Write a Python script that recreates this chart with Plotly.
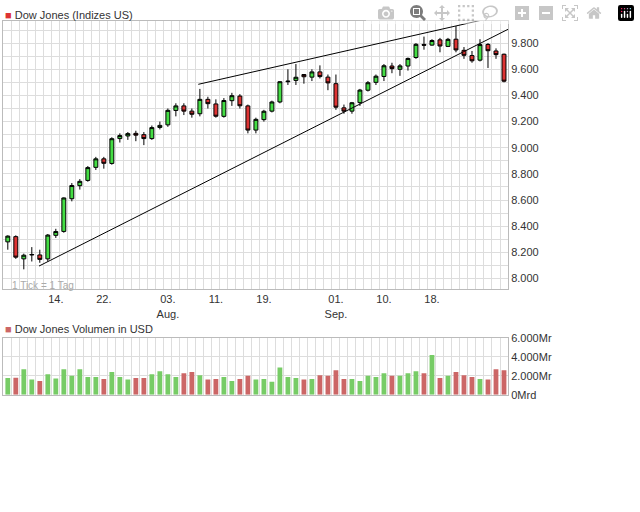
import plotly.graph_objects as go

dates = ["07-06","07-07","07-08","07-09","07-10","07-13","07-14","07-15","07-16","07-17","07-20","07-21","07-22","07-23","07-24","07-27","07-28","07-29","07-30","07-31",
"08-03","08-04","08-05","08-06","08-07","08-10","08-11","08-12","08-13","08-14","08-17","08-18","08-19","08-20","08-21","08-24","08-25","08-26","08-27","08-28","08-31",
"09-01","09-02","09-03","09-04","09-08","09-09","09-10","09-11","09-14","09-15","09-16","09-17","09-18","09-21","09-22","09-23","09-24","09-25","09-28","09-29","09-30","10-01"]
close = [8324,8163,8178,8183,8146,8332,8359,8616,8711,8743,8848,8915,8881,9069,9093,9108,9096,9070,9154,9171,
9286,9320,9280,9256,9370,9337,9241,9361,9398,9321,9135,9217,9279,9350,9505,9509,9539,9543,9580,9544,9496,
9310,9280,9344,9441,9497,9547,9627,9605,9626,9683,9791,9784,9820,9778,9829,9748,9707,9665,9789,9742,9712,9509]
open_ = [8280,8320,8150,8180,8180,8150,8330,8360,8610,8710,8750,8850,8915,8880,9070,9090,9110,9100,9070,9155,
9175,9285,9320,9280,9260,9370,9335,9240,9360,9395,9320,9135,9215,9280,9350,9505,9515,9560,9540,9580,9540,
9490,9305,9280,9345,9440,9500,9545,9625,9600,9625,9690,9790,9785,9825,9775,9830,9745,9705,9670,9790,9740,9715]
high = [8330,8330,8190,8240,8220,8340,8380,8620,8730,8760,8860,8930,8930,9080,9110,9120,9130,9120,9170,9200,
9300,9340,9340,9300,9450,9390,9370,9380,9420,9410,9330,9230,9290,9360,9510,9600,9640,9550,9600,9630,9560,
9560,9330,9350,9450,9510,9560,9640,9650,9640,9690,9800,9850,9830,9840,9840,9930,9770,9740,9830,9800,9760,9720]
low = [8220,8150,8070,8130,8120,8130,8310,8350,8590,8680,8740,8830,8840,8870,9040,9060,9050,9020,9060,9140,
9160,9240,9250,9230,9240,9300,9230,9230,9320,9300,9110,9110,9200,9270,9340,9480,9480,9490,9510,9530,9440,
9290,9260,9260,9320,9430,9480,9510,9570,9550,9590,9680,9750,9780,9730,9770,9730,9680,9650,9660,9610,9680,9500]
volume = [1.76,1.8,2.7,1.6,1.46,2.17,1.7,2.7,2.0,2.7,1.86,1.86,1.66,2.4,1.86,1.6,1.76,1.76,2.17,2.47,2.17,1.86,2.28,2.4,2.07,1.6,1.66,1.86,1.46,1.66,2.0,1.6,1.66,1.36,2.88,1.86,1.76,1.6,1.66,2.07,2.0,2.6,1.66,1.66,1.46,2.0,1.86,2.28,2.0,2.0,2.28,2.47,2.28,4.2,1.76,2.0,2.4,2.07,1.86,1.66,1.6,2.7,2.6]
tick_dates = ["07-14","07-22","08-03","08-11","08-19","09-01","09-10","09-18"]
tick_text = ["14.","22.","03.<br>Aug.","11.","19.","01.<br>Sep.","10.","18."]
lower_trend_x = [3.9, 62.8]; lower_trend_y = [8095, 9915]
upper_trend_x = [23.8, 59.5]; upper_trend_y = [9485, 9980]

idx = list(range(len(dates)))
tickvals = [dates.index(d) for d in tick_dates]
vol_colors = ["#77cc66" if c >= o else "#cc6666" for c, o in zip(close, open_)]
vol_mrd = [v * 1000 for v in volume]

fig = go.Figure()
fig.add_trace(go.Candlestick(x=idx, open=open_, high=high, low=low, close=close,
    increasing=dict(fillcolor="#44dd44", line=dict(color="#000000", width=1)),
    decreasing=dict(fillcolor="#dd3333", line=dict(color="#000000", width=1)),
    whiskerwidth=0, showlegend=False, xaxis="x", yaxis="y"))
fig.add_trace(go.Scatter(x=lower_trend_x, y=lower_trend_y, mode="lines", line=dict(color="black", width=1), showlegend=False, xaxis="x", yaxis="y"))
fig.add_trace(go.Scatter(x=upper_trend_x, y=upper_trend_y, mode="lines", line=dict(color="black", width=1), showlegend=False, xaxis="x", yaxis="y"))
fig.add_trace(go.Bar(x=idx, y=vol_mrd, marker=dict(color=vol_colors, line=dict(width=0)), width=0.6, showlegend=False, xaxis="x2", yaxis="y2"))

ptick = list(range(8000, 10000, 100))
ptext = [f"{v//1000}.{v%1000:03d}" if v % 200 == 0 else "" for v in ptick]
grid = "#dddddd"
font = dict(family="Liberation Sans, Arial", size=11, color="#333333")
fig.update_layout(
    width=640, height=512, margin=dict(l=0, r=0, t=0, b=0), paper_bgcolor="white", plot_bgcolor="white",
    font=font,
    xaxis=dict(domain=[3/640, 508/640], range=[-0.6, 62.5], tickvals=tickvals, ticktext=tick_text, showgrid=False,
               minor=dict(dtick=1, tick0=0.5, showgrid=True, gridcolor=grid), ticks="", zeroline=False,
               showline=True, linecolor="#bbbbbb", mirror=True, rangeslider=dict(visible=False), anchor="y"),
    yaxis=dict(domain=[1-290/512, 1-15/512], range=[7918, 9972], side="right", tickvals=ptick, ticktext=ptext,
               gridcolor=grid, zeroline=False, showline=True, linecolor="#bbbbbb", mirror=True, anchor="x"),
    xaxis2=dict(domain=[3/640, 508/640], range=[-0.6, 62.5], showticklabels=False, showgrid=False,
                minor=dict(dtick=1, tick0=0.5, showgrid=True, gridcolor=grid), zeroline=False,
                showline=True, linecolor="#bbbbbb", mirror=True, anchor="y2"),
    yaxis2=dict(domain=[1-398/512, 1-340/512], range=[0, 6000], side="right", tickvals=[0, 2000, 4000, 6000],
                ticktext=["0Mrd", "2.000Mr", "4.000Mr", "6.000Mr"], gridcolor=grid, zeroline=False,
                showline=True, linecolor="#bbbbbb", mirror=True, anchor="x2"),
)
fig.add_annotation(xref="paper", yref="paper", x=3/640, y=1-1/512, xanchor="left", yanchor="top", showarrow=False,
                   text="<span style='color:#dd3333'>■</span> Dow Jones (Indizes US)", font=dict(size=11, color="#333"))
fig.add_annotation(xref="paper", yref="paper", x=3/640, y=1-323/512, xanchor="left", yanchor="top", showarrow=False,
                   text="<span style='color:#cc6666'>■</span> Dow Jones Volumen in USD", font=dict(size=11, color="#333"))
fig.add_annotation(xref="paper", yref="paper", x=10/640, y=1-279/512, xanchor="left", yanchor="top", showarrow=False,
                   text="1 Tick = 1 Tag", font=dict(size=10, color="#aaaaaa"))
fig.write_html("out.html", post_script="document.body.style.margin='0';")
